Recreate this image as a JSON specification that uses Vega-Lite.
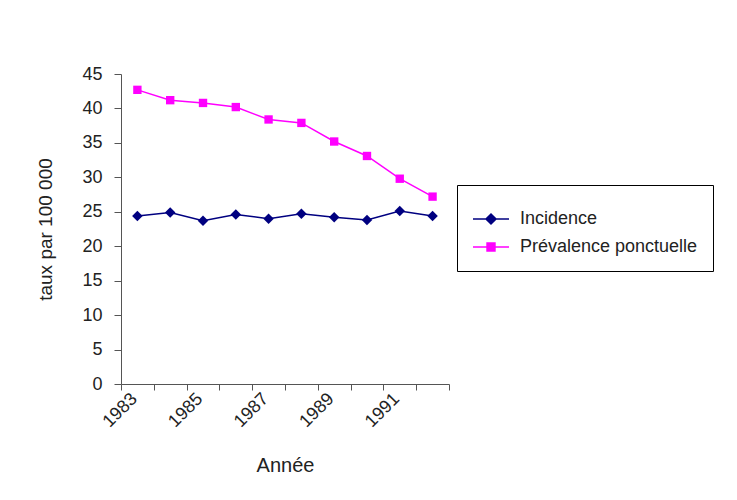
{
  "$schema": "https://vega.github.io/schema/vega-lite/v6.json",
  "width": 328,
  "height": 310,
  "autosize": {"type": "none"},
  "padding": {"left": 121, "top": 74, "right": 288, "bottom": 116},
  "background": "white",
  "config": {
    "view": {"stroke": null},
    "font": "Liberation Sans",
    "axis": {
      "domainColor": "#555555",
      "tickColor": "#555555",
      "labelColor": "#222222",
      "titleColor": "#222222",
      "labelFont": "Liberation Sans",
      "titleFont": "Liberation Sans",
      "titleFontWeight": "normal",
      "grid": false
    }
  },
  "data": {
    "values": [
      {"year": "1983", "series": "Incidence", "value": 24.4},
      {"year": "1984", "series": "Incidence", "value": 24.9},
      {"year": "1985", "series": "Incidence", "value": 23.7},
      {"year": "1986", "series": "Incidence", "value": 24.6},
      {"year": "1987", "series": "Incidence", "value": 24.0},
      {"year": "1988", "series": "Incidence", "value": 24.7},
      {"year": "1989", "series": "Incidence", "value": 24.2},
      {"year": "1990", "series": "Incidence", "value": 23.8},
      {"year": "1991", "series": "Incidence", "value": 25.1},
      {"year": "1992", "series": "Incidence", "value": 24.4},
      {"year": "1983", "series": "Prévalence ponctuelle", "value": 42.7},
      {"year": "1984", "series": "Prévalence ponctuelle", "value": 41.2},
      {"year": "1985", "series": "Prévalence ponctuelle", "value": 40.8},
      {"year": "1986", "series": "Prévalence ponctuelle", "value": 40.2},
      {"year": "1987", "series": "Prévalence ponctuelle", "value": 38.4},
      {"year": "1988", "series": "Prévalence ponctuelle", "value": 37.9},
      {"year": "1989", "series": "Prévalence ponctuelle", "value": 35.2},
      {"year": "1990", "series": "Prévalence ponctuelle", "value": 33.1},
      {"year": "1991", "series": "Prévalence ponctuelle", "value": 29.8},
      {"year": "1992", "series": "Prévalence ponctuelle", "value": 27.2}
    ]
  },
  "encoding": {
    "x": {
      "field": "year",
      "type": "temporal",
      "timeUnit": "utcyear",
      "bandPosition": 0.5,
      "title": "Année",
      "scale": {"type": "utc", "domain": [{"year": 1983, "utc": true}, {"year": 1993, "utc": true}], "nice": false},
      "axis": {
        "values": [
          {"year": 1983, "utc": true}, {"year": 1984, "utc": true}, {"year": 1985, "utc": true},
          {"year": 1986, "utc": true}, {"year": 1987, "utc": true}, {"year": 1988, "utc": true},
          {"year": 1989, "utc": true}, {"year": 1990, "utc": true}, {"year": 1991, "utc": true},
          {"year": 1992, "utc": true}, {"year": 1993, "utc": true}
        ],
        "labelExpr": "(utcyear(datum.value) % 2 == 1 && utcyear(datum.value) < 1993) ? utcFormat(datum.value, '%Y') : ''",
        "labelAngle": -45,
        "labelAlign": "right",
        "labelBaseline": "middle",
        "labelFontSize": 18,
        "labelPadding": 6,
        "labelOffset": 13,
        "labelOverlap": false,
        "labelFlush": false,
        "tickSize": 6,
        "titleFontSize": 20,
        "titlePadding": 25
      }
    },
    "y": {
      "field": "value",
      "type": "quantitative",
      "title": "taux par 100 000",
      "scale": {"domain": [0, 45], "nice": false},
      "axis": {
        "values": [0, 5, 10, 15, 20, 25, 30, 35, 40, 45],
        "labelFontSize": 18,
        "labelPadding": 12,
        "tickSize": 7,
        "titleFontSize": 19,
        "titlePadding": 26
      }
    },
    "color": {
      "field": "series",
      "type": "nominal",
      "scale": {"domain": ["Incidence", "Prévalence ponctuelle"], "range": ["#000080", "#FF00FF"]},
      "legend": {
        "title": null,
        "orient": "none",
        "legendX": 336,
        "legendY": 111,
        "direction": "vertical",
        "fillColor": "white",
        "strokeColor": "#000000",
        "padding": 15,
        "labelFont": "Liberation Sans",
        "labelFontSize": 18,
        "labelColor": "#222222",
        "labelLimit": 400,
        "labelOffset": 10,
        "rowPadding": -12,
        "symbolSize": 1296,
        "symbolStrokeWidth": 1.5,
        "symbolType": "M-1,0H1",
        "encode": {
          "symbols": {
            "update": {
              "shape": {"signal": "datum.value == 'Incidence' ? 'M-1,0H1M-0.28,0L0,-0.28L0.28,0L0,0.28Z' : 'M-1,0H1M-0.22,-0.22H0.22V0.22H-0.22Z'"},
              "size": {"value": 1296},
              "fill": {"signal": "datum.value == 'Incidence' ? '#000080' : '#FF00FF'"},
              "stroke": {"signal": "datum.value == 'Incidence' ? '#000080' : '#FF00FF'"},
              "strokeWidth": {"value": 1.5},
              "opacity": {"value": 1}
            }
          }
        }
      }
    }
  },
  "layer": [
    {
      "mark": {"type": "line", "strokeWidth": 1.5}
    },
    {
      "transform": [{"filter": "datum.series == 'Incidence'"}],
      "mark": {"type": "point", "filled": true, "opacity": 1, "shape": "diamond", "size": 110}
    },
    {
      "transform": [{"filter": "datum.series == 'Prévalence ponctuelle'"}],
      "mark": {"type": "point", "filled": true, "opacity": 1, "shape": "square", "size": 70}
    }
  ]
}
